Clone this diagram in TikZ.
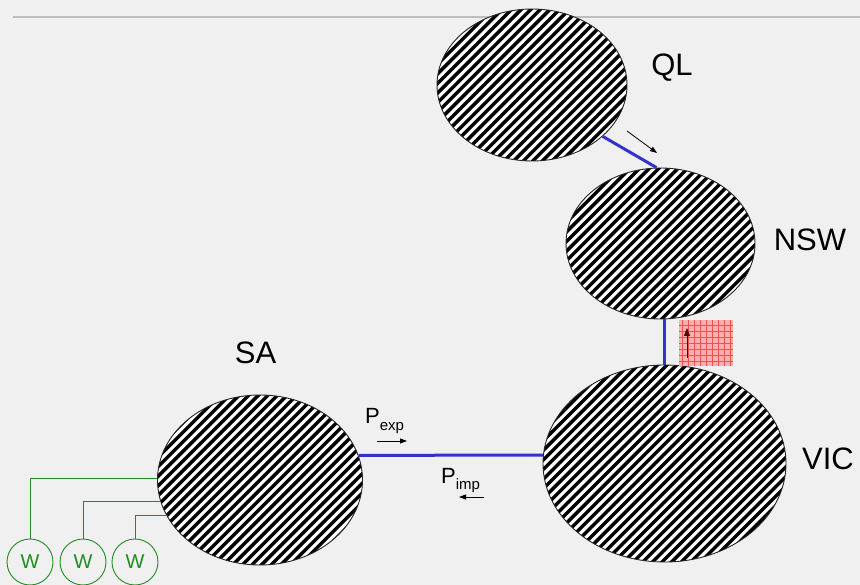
\documentclass[tikz,border=0pt]{standalone}
\usepackage{fontspec}
\setmainfont{Liberation Sans}
\usetikzlibrary{shapes.geometric,arrows.meta,calc}

\definecolor{paper}{RGB}{240,240,240}
\definecolor{rule}{RGB}{190,190,190}
\definecolor{link}{RGB}{51,51,204}
\definecolor{windgreen}{RGB}{34,140,34}
\definecolor{flowpink}{RGB}{252,175,175}
\definecolor{flowgrid}{RGB}{240,80,80}
\definecolor{darkarrow}{RGB}{90,0,0}

\tikzset{
  region/.style={ellipse, draw=black!85, line width=0.9pt, fill=white, inner sep=0pt,
    path picture={
      \foreach \k in {-30,...,30}
        \draw[black, line width=3.4pt]
          ($(path picture bounding box.center)+(\k*9.6-140,140)$) -- ++(280,-280);
    }},
  regionlabel/.style={font=\fontsize{31}{31}\selectfont, anchor=base, inner sep=0pt},
  tie/.style={draw=link, line width=3pt},
  flowarrow/.style={draw=black, line width=0.8pt, -{Triangle[length=7pt,width=5pt]}},
  windfarm/.style={circle, draw=windgreen, line width=0.9pt, minimum size=46pt, inner sep=0pt,
    text=windgreen, font=\fontsize{20}{20}\selectfont},
  feeder/.style={draw=windgreen, line width=0.9pt},
  plabel/.style={anchor=base west, inner sep=0pt}
}

\begin{document}
\begin{tikzpicture}[x=1pt, y=-1pt]
  % canvas
  \useasboundingbox (0,0) rectangle (860,585);
  \fill[paper] (0,0) rectangle (860,585);
  \draw[rule, line width=1.5pt] (13,17) -- (860,17);

  % wind farms
  \node[windfarm] (w1) at (30,562) {W};
  \node[windfarm] (w2) at (83,562) {W};
  \node[windfarm] (w3) at (135,562) {W};

  % regions
  \node[region, minimum width=190pt, minimum height=152pt] (ql)  at (532,85) {};
  \node[region, minimum width=189pt, minimum height=151pt] (nsw) at (660.5,243.5) {};
  \node[region, minimum width=243pt, minimum height=197pt] (vic) at (664.5,463.5) {};
  \node[region, minimum width=205pt, minimum height=170pt] (sa)  at (260,480) {};

  % wind farm feeders into SA
  \draw[feeder] (w1.north) |- (sa.179);
  \draw[feeder] (w2.north) |- (sa.192);
  \draw[feeder] (w3.north) |- (sa.201);

  % labels
  \node[regionlabel] (qllab)  at (672,76)  {QL};
  \node[regionlabel] (nswlab) at (810,251) {NSW};
  \node[regionlabel] (salab)  at (255.5,364) {SA};
  \node[regionlabel] (viclab) at (828,469) {VIC};

  % interconnectors
  \draw[tie] (ql.-36) -- (nsw.93);
  \draw[tie] (nsw.-87) -- (nsw.-87 |- vic.north);
  \draw[tie] (sa.14) -- (vic.176);

  % flow arrow QL -> NSW
  \coordinate (qa1) at (627,131);
  \coordinate (qa2) at (657,153);
  \draw[flowarrow] (qa1) -- (qa2);

  % constrained flow marker NSW <- VIC
  \node[draw=none, fill=flowpink, minimum width=54pt, minimum height=46pt, inner sep=0pt,
        anchor=north west, path picture={
          \draw[flowgrid, line width=0.5pt, step=6pt]
            (path picture bounding box.south west) grid (path picture bounding box.north east);
        }] (lim) at (679,320) {};
  \coordinate (la1) at (687,358);
  \coordinate (la2) at (687,328);
  \draw[draw=darkarrow, line width=0.9pt, -{Triangle[length=8pt,width=6pt]}] (la1) -- (la2);

  % export / import labels
  \node[plabel] (pexp) at (365,424)
    {\fontsize{22}{22}\selectfont P\raisebox{-6pt}{\fontsize{15}{15}\selectfont exp}};
  \node[plabel] (pimp) at (441,483)
    {\fontsize{22}{22}\selectfont P\raisebox{-6.5pt}{\fontsize{15}{15}\selectfont imp}};
  \coordinate (pe1) at (377,441);
  \coordinate (pe2) at (407,441);
  \coordinate (pi1) at (484,497);
  \coordinate (pi2) at (459,497);
  \draw[flowarrow] (pe1) -- (pe2);
  \draw[flowarrow] (pi1) -- (pi2);
\end{tikzpicture}
\end{document}
